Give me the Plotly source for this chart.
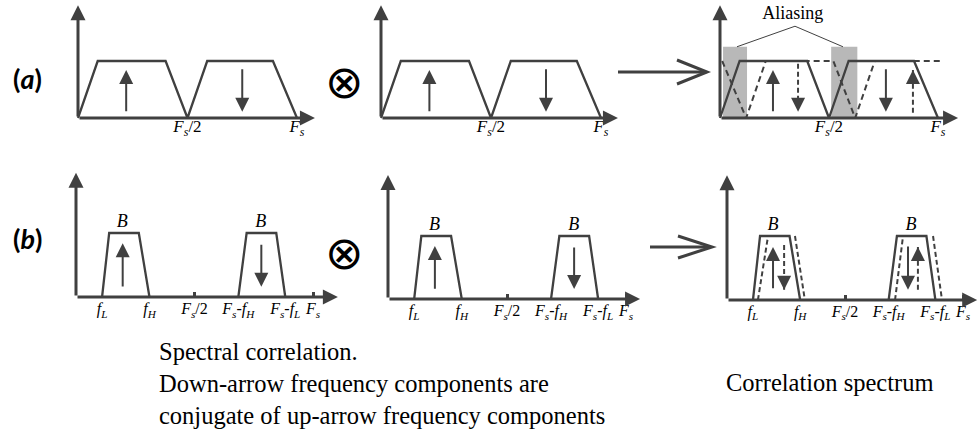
import plotly.graph_objects as go

W, H = 979, 432
INK = "#404040"
SHADE = "#b8b8b8"
SERIF = "Liberation Serif"

# ---------------- data: frequency in units of Fs, amplitude normalised to band level ----------------
# (a) wideband signal: band from 0 to Fs/2 and its image from Fs/2 to Fs
a_freq = [0.0, 0.09, 0.40, 0.50, 0.59, 0.89, 1.00]
a_amp = [0.0, 1.0, 1.0, 0.0, 1.0, 1.0, 0.0]
# conjugate copy that shows up in the correlation spectrum
a_conj_freq = [0.01, 0.12, 0.21, 0.52, 0.62, 0.71, 1.02]
a_conj_amp = [1.0, 0.0, 1.0, 1.0, 0.0, 1.0, 1.0]
# aliasing zones and the callout that points at them
alias_lo = [0.014, 0.510]
alias_hi = [0.124, 0.630]
alias_level = 1.25
alias_callout_freq = [0.078, 0.344, 0.564]
alias_callout_amp = [1.25, 1.61, 1.25]
a_tick_vals = [0.5, 1.0]
a_tick_text = ["<i>F<sub>s</sub></i>/2", "<i>F<sub>s</sub></i>"]
# direction arrows (frequency, tail level, tip level)
a_up = (0.22, 0.09, 0.84)
a_down = (0.75, 0.88, 0.11)
a_corr_up = (0.243, 0.09, 0.84)
a_corr_down_conj = (0.358, 0.95, 0.11)
a_corr_down = (0.761, 0.88, 0.11)
a_corr_up_conj = (0.885, 0.09, 0.84)

# (b) narrowband signal of bandwidth B between fL and fH, plus its image
b_up_freq = [0.11, 0.14, 0.265, 0.31]
b_down_freq = [0.685, 0.72, 0.845, 0.883]
b_band_amp = [0.0, 1.0, 1.0, 0.0]
# conjugate copies (edges only) in the correlation spectrum
b_conj_up_freq = [0.131, 0.174, 0.288, 0.33]
b_conj_down_freq = [0.712, 0.746, 0.873, 0.911]
b_tick_vals = [0.5, 1.0]
b_label_vals = [0.11, 0.31, 0.5, 0.685, 0.883, 1.0]
b_label_text = ["<i>f<sub>L</sub></i>", "<i>f<sub>H</sub></i>", "<i>F<sub>s</sub></i>/2",
                "<i>F<sub>s</sub></i>-<i>f<sub>H</sub></i>", "<i>F<sub>s</sub></i>-<i>f<sub>L</sub></i>",
                "<i>F<sub>s</sub></i>"]
b_band_centres = [0.195, 0.78]
b_up = (0.197, 0.14, 0.84)
b_down = (0.782, 0.84, 0.16)
b_corr_up = (0.195, 0.16, 0.83)
b_corr_down_conj = (0.242, 0.86, 0.16)
b_corr_down = (0.767, 0.86, 0.16)
b_corr_up_conj = (0.809, 0.16, 0.83)

# ---------------- panel frames: origin pixel, pixels per unit, axis arrow extents ----------------
PANELS = {
    1: dict(ox=78, oy=118, sx=219, sy=57, xtip=1.082, ytip=1.98, f=(-0.12, 1.15), a=(-0.45, 2.05)),
    2: dict(ox=381, oy=118, sx=220, sy=57, xtip=1.077, ytip=1.98, f=(-0.12, 1.15), a=(-0.45, 2.05)),
    3: dict(ox=720, oy=118, sx=218, sy=57, xtip=1.092, ytip=1.98, f=(-0.12, 1.15), a=(-0.45, 2.05)),
    4: dict(ox=76, oy=297, sx=237, sy=64, xtip=1.105, ytip=1.94, f=(-0.12, 1.15), a=(-0.5, 2.0)),
    5: dict(ox=388, oy=299, sx=238, sy=63, xtip=1.059, ytip=1.97, f=(-0.12, 1.1), a=(-0.5, 2.0)),
    6: dict(ox=727, oy=300, sx=236, sy=64, xtip=1.06, ytip=1.95, f=(-0.12, 1.066), a=(-0.5, 2.0)),
}

fig = go.Figure()
layout = dict(width=W, height=H, margin=dict(l=0, r=0, t=0, b=0),
              paper_bgcolor="white", plot_bgcolor="white", showlegend=False)
annotations = []
shapes = []


def refs(i):
    s = "" if i == 1 else str(i)
    return "xaxis" + s, "yaxis" + s, "x" + s, "y" + s


for i, p in PANELS.items():
    xa, ya, xr, yr = refs(i)
    f0, f1 = p["f"]
    a0, a1 = p["a"]
    layout[xa] = dict(domain=[(p["ox"] + f0 * p["sx"]) / W, (p["ox"] + f1 * p["sx"]) / W],
                      range=[f0, f1], visible=False, anchor=yr)
    layout[ya] = dict(domain=[1 - (p["oy"] - a0 * p["sy"]) / H, 1 - (p["oy"] - a1 * p["sy"]) / H],
                      range=[a0, a1], visible=False, anchor=xr)
    # coordinate axes drawn as arrows
    for tip in ((p["xtip"], 0.0), (0.0, p["ytip"])):
        annotations.append(dict(x=tip[0], y=tip[1], ax=0.0, ay=0.0, xref=xr, yref=yr, axref=xr, ayref=yr,
                                text="", showarrow=True, arrowhead=2, arrowsize=1.0, arrowwidth=3,
                                arrowcolor=INK, standoff=0))

# small tick marks on the narrowband frequency axes
for i in (4, 5, 6):
    xa, ya, xr, yr = refs(i)
    p = PANELS[i]
    layout[xa].update(visible=True, showline=False, showgrid=False, zeroline=False,
                      tickvals=b_tick_vals, ticks="inside", ticklen=5, tickwidth=2.5, tickcolor=INK,
                      showticklabels=False, anchor="free", position=1 - p["oy"] / H)


def line(i, x, y, width=2.3, dash=None):
    _, _, xr, yr = refs(i)
    fig.add_trace(go.Scatter(x=x, y=y, xaxis=xr, yaxis=yr, mode="lines", hoverinfo="skip",
                             line=dict(color=INK, width=width, dash=dash)))


def label(i, x, y, text, size):
    _, _, xr, yr = refs(i)
    fig.add_trace(go.Scatter(x=x, y=y, xaxis=xr, yaxis=yr, mode="text", text=text, hoverinfo="skip",
                             cliponaxis=False, textposition="middle center",
                             textfont=dict(family=SERIF, size=size, color="black")))


def arrow(i, spec, dashed=False):
    _, _, xr, yr = refs(i)
    f, tail, tip = spec
    if dashed:
        line(i, [f, f], [tail, tip], width=2, dash="5px,3px")
        tail = tip + (0.22 if tail > tip else -0.22)
    annotations.append(dict(x=f, y=tip, ax=f, ay=tail, xref=xr, yref=yr, axref=xr, ayref=yr, text="",
                            showarrow=True, arrowhead=2, arrowsize=1.4, arrowwidth=2,
                            arrowcolor=INK, standoff=0))


# ---- (a) input spectra ----
for i in (1, 2):
    line(i, a_freq, a_amp)
    arrow(i, a_up)
    arrow(i, a_down)
    label(i, a_tick_vals, [-0.17] * 2, a_tick_text, 17)

# ---- (a) correlation spectrum with aliasing ----
for lo, hi in zip(alias_lo, alias_hi):
    shapes.append(dict(type="rect", xref="x3", yref="y3", x0=lo, x1=hi, y0=0, y1=alias_level,
                       fillcolor=SHADE, line=dict(width=0), layer="below"))
line(3, a_conj_freq, a_conj_amp, width=2, dash="6px,4px")
line(3, a_freq, a_amp)
line(3, alias_callout_freq, alias_callout_amp, width=1)
label(3, [alias_callout_freq[1] - 0.01], [1.82], ["Aliasing"], 18)
arrow(3, a_corr_up)
arrow(3, a_corr_down_conj, dashed=True)
arrow(3, a_corr_down)
arrow(3, a_corr_up_conj, dashed=True)
label(3, a_tick_vals, [-0.17] * 2, a_tick_text, 17)

# ---- (b) input spectra ----
for i in (4, 5):
    line(i, b_up_freq, b_band_amp)
    line(i, b_down_freq, b_band_amp)
    arrow(i, b_up)
    arrow(i, b_down)
    label(i, b_band_centres, [1.17] * 2, ["<i>B</i>"] * 2, 18)
    label(i, b_label_vals, [-0.21] * 6, b_label_text, 16)

# ---- (b) correlation spectrum ----
line(6, b_up_freq, b_band_amp)
line(6, b_down_freq, b_band_amp)
line(6, [b_conj_up_freq[0], b_conj_up_freq[1], None, b_conj_up_freq[2], b_conj_up_freq[3]],
     [0, 1, None, 1, 0], width=2, dash="5px,3px")
line(6, [b_conj_down_freq[0], b_conj_down_freq[1], None, b_conj_down_freq[2], b_conj_down_freq[3]],
     [0, 1, None, 1, 0], width=2, dash="5px,3px")
arrow(6, b_corr_up)
arrow(6, b_corr_down_conj, dashed=True)
arrow(6, b_corr_down)
arrow(6, b_corr_up_conj, dashed=True)
label(6, b_band_centres, [1.16] * 2, ["<i>B</i>"] * 2, 18)
label(6, b_label_vals, [-0.2] * 6, b_label_text, 16)


# ---- decorations in paper space ----
def px(x):
    return x / W


def py(y):
    return 1 - y / H


def chevron_arrow(x0, x1, y, head_len, half):
    shapes.append(dict(type="line", xref="paper", yref="paper", x0=px(x0), x1=px(x1 - 2), y0=py(y), y1=py(y),
                       line=dict(color=INK, width=3)))
    path = "M {},{} L {},{} L {},{}".format(px(x1 - head_len), py(y - half), px(x1), py(y),
                                            px(x1 - head_len), py(y + half))
    shapes.append(dict(type="path", xref="paper", yref="paper", path=path, line=dict(color=INK, width=3)))


chevron_arrow(618, 707, 72, 30, 12)
chevron_arrow(650, 712, 247, 34, 11)

for yc in (82, 253):
    annotations.append(dict(x=px(344), y=py(yc), xref="paper", yref="paper", xanchor="center",
                            yanchor="middle", text="⊗", showarrow=False,
                            font=dict(family="DejaVu Sans", size=46, color="black")))

for yc, tag in ((78, "a"), (238, "b")):
    annotations.append(dict(x=px(27), y=py(yc), xref="paper", yref="paper", xanchor="center",
                            yanchor="middle", text="<b>(<i>{}</i>)</b>".format(tag), showarrow=False,
                            font=dict(family="Lato", size=27, color="black")))

annotations.append(dict(x=px(157), y=py(336), xref="paper", yref="paper", xanchor="left", yanchor="top",
                        align="left", showarrow=False, font=dict(family=SERIF, size=24.5, color="black"),
                        text="Spectral correlation.<br>Down-arrow frequency components are<br>"
                             "conjugate of up-arrow frequency components"))
annotations.append(dict(x=px(830), y=py(382), xref="paper", yref="paper", xanchor="center",
                        yanchor="middle", showarrow=False,
                        font=dict(family=SERIF, size=24.5, color="black"), text="Correlation spectrum"))

layout["annotations"] = annotations
layout["shapes"] = shapes
fig.update_layout(**layout)
fig.write_html("out.html", config={"displayModeBar": False})
